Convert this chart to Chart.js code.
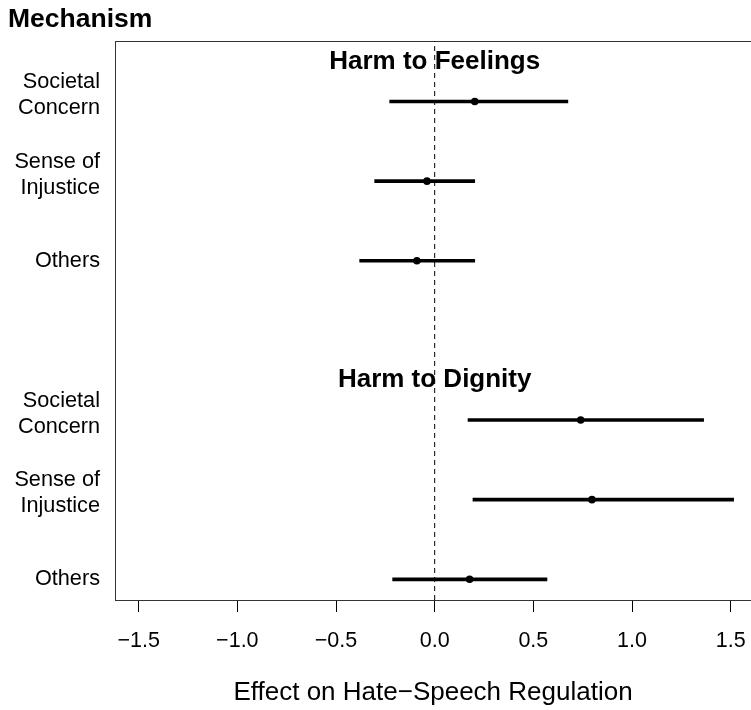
<!DOCTYPE html>
<html><head><meta charset="utf-8">
<script src="https://cdn.jsdelivr.net/npm/chart.js@4/dist/chart.umd.min.js"></script>
<style>
html,body{margin:0;padding:0;background:#fff;overflow:hidden;}
#wrap{width:751px;height:710px;}
canvas{display:block;}
</style></head><body>
<div id="wrap"><canvas id="c" width="751" height="710"></canvas></div>
<script>
// ---- data ----
const rowPositions = [7, 6, 5, 3, 2, 1];
const labelLine1 = ['Societal', 'Sense of', 'Others', 'Societal', 'Sense of', 'Others'];
const labelLine2 = ['Concern', 'Injustice', '', 'Concern', 'Injustice', ''];
const estimates = [0.203, -0.039, -0.090, 0.740, 0.797, 0.177];
const ciLower   = [-0.228, -0.304, -0.380, 0.169, 0.194, -0.213];
const ciUpper   = [0.675, 0.203, 0.203, 1.363, 1.515, 0.569];
const groupTitles = ['Harm to Feelings', 'Harm to Dignity'];
const groupTitleRows = [7.5, 3.5];
const groupTitleX = 0;
const xTickValues = [-1.5, -1, -0.5, 0, 0.5, 1, 1.5];
const xTickLabels = ['\u22121.5', '\u22121.0', '\u22120.5', '0.0', '0.5', '1.0', '1.5'];
const refLineX = 0;
const xLimits = [-1.62, 1.603];
const yLimits = [0.74, 7.76];
const xAxisTitle = 'Effect on Hate\u2212Speech Regulation';
const yAxisHeading = 'Mechanism';

const FONT = '"Liberation Sans", Arial, Helvetica, sans-serif';
Chart.defaults.font.family = FONT;
Chart.defaults.color = '#000';

const ciData = rowPositions.map((r, i) => ({ y: r, x: [ciLower[i], ciUpper[i]] }));
const pointData = rowPositions.map((r, i) => ({ x: estimates[i], y: r }));
const refLineData = [{ x: refLineX, y: yLimits[0] }, { x: refLineX, y: yLimits[1] }];

const decor = {
  id: 'decor',
  beforeDatasetsDraw(chart) {
    const { ctx, chartArea: a } = chart;
    ctx.save();
    ctx.strokeStyle = '#333';
    ctx.lineWidth = 1;
    const l = Math.round(a.left) + 0.5, t = Math.round(a.top) + 0.5, b = Math.round(a.bottom) + 0.5, r = Math.round(a.right) + 0.5;
    ctx.strokeRect(l, t, r - l, b - t);
    ctx.restore();
  },
  afterDatasetsDraw(chart) {
    const { ctx, scales: { x, y } } = chart;
    ctx.save();
    ctx.fillStyle = '#000';
    ctx.font = 'bold 26px ' + FONT;
    ctx.textAlign = 'center';
    ctx.textBaseline = 'middle';
    groupTitles.forEach((t, i) => ctx.fillText(t, x.getPixelForValue(groupTitleX), y.getPixelForValue(groupTitleRows[i])));
    ctx.font = 'bold 26.5px ' + FONT;
    ctx.textAlign = 'left';
    ctx.textBaseline = 'alphabetic';
    ctx.fillText(yAxisHeading, 8, 27);
    ctx.restore();
  }
};

new Chart(document.getElementById('c'), {
  type: 'bar',
  data: {
    datasets: [
      { type: 'scatter', data: pointData, backgroundColor: '#000', borderWidth: 0, pointRadius: 3.8, pointHoverRadius: 3.8, order: 1 },
      { type: 'bar', indexAxis: 'y', data: ciData, backgroundColor: '#000', borderWidth: 0, barThickness: 3, order: 2 },
      { type: 'line', indexAxis: 'y', data: refLineData, borderColor: '#000', borderWidth: 1, borderDash: [5, 4], pointRadius: 0, pointHoverRadius: 0, pointBorderWidth: 0, fill: false, order: 3 }
    ]
  },
  options: {
    indexAxis: 'y',
    responsive: false,
    animation: false,
    devicePixelRatio: 1,
    layout: { autoPadding: false, padding: { left: 0, right: 0, top: 41, bottom: 0 } },
    plugins: { legend: { display: false }, tooltip: { enabled: false } },
    scales: {
      x: {
        type: 'linear', min: xLimits[0], max: xLimits[1], offset: false,
        afterBuildTicks: s => { s.ticks = xTickValues.map(v => ({ value: v })); },
        afterFit: s => { s.height = 110; s.paddingLeft = 0; s.paddingRight = 0; },
        ticks: { callback: (v, i) => xTickLabels[i], font: { size: 21.5 }, color: '#000', padding: 16, maxRotation: 0, autoSkip: false },
        grid: { display: true, drawOnChartArea: false, drawTicks: true, tickLength: 12, tickColor: '#000', tickWidth: 1 },
        border: { display: false },
        title: { display: true, text: xAxisTitle, font: { size: 26 }, color: '#000', padding: { top: 0, bottom: 1.4 } }
      },
      y: {
        type: 'linear', min: yLimits[0], max: yLimits[1], offset: false,
        afterBuildTicks: s => { s.ticks = rowPositions.map(v => ({ value: v })); },
        afterFit: s => { s.width = 115; s.paddingTop = 0; s.paddingBottom = 0; },
        ticks: {
          callback: (v, i) => labelLine2[i] ? [labelLine1[i], '', labelLine2[i], ''] : labelLine1[i],
          font: { size: 21.7, lineHeight: '13px' }, color: '#000', padding: 15, autoSkip: false
        },
        grid: { display: false, drawTicks: false },
        border: { display: false }
      }
    }
  },
  plugins: [decor]
});
</script>
</body></html>
